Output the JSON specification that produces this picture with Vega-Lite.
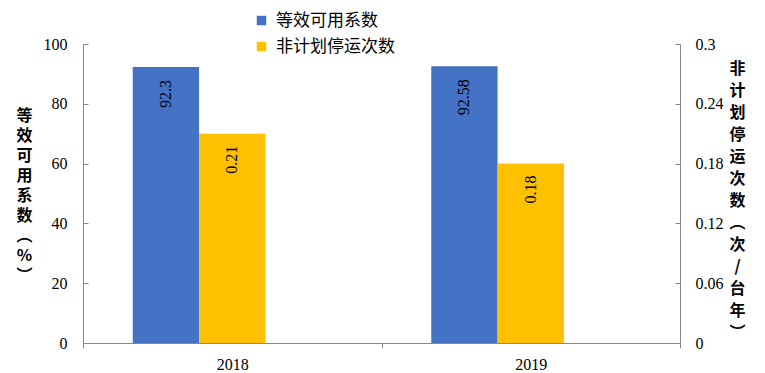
{
  "$schema": "https://vega.github.io/schema/vega-lite/v6.json",
  "width": 597,
  "height": 299,
  "autosize": {"type": "none"},
  "padding": {"left": 83, "top": 44, "right": 85, "bottom": 30},
  "background": "white",
  "config": {
    "view": {"stroke": null},
    "axis": {"grid": false, "domainColor": "#888888", "tickColor": "#888888", "labelColor": "#000000", "labelFont": "Liberation Serif", "labelFontSize": 16, "titleColor": "#000000"}
  },
  "data": {
    "values": [
      {"year": "2018", "series": "等效可用系数", "value": 92.3},
      {"year": "2018", "series": "非计划停运次数", "value": 0.21},
      {"year": "2019", "series": "等效可用系数", "value": 92.58},
      {"year": "2019", "series": "非计划停运次数", "value": 0.18}
    ]
  },
  "encoding": {
    "x": {"field": "year", "type": "nominal", "title": null,
      "scale": {"paddingInner": 0, "paddingOuter": 0},
      "axis": {"labelAngle": 0, "tickBand": "extent", "tickSize": 5, "labelPadding": 8, "labelBaseline": "top"}},
    "xOffset": {"field": "series", "type": "nominal", "scale": {"domain": ["等效可用系数", "非计划停运次数", "空"], "paddingInner": 0, "paddingOuter": 0.75}},
    "color": {"field": "series", "type": "nominal", "title": null,
      "scale": {"domain": ["等效可用系数", "非计划停运次数"], "range": ["#4472C4", "#FFC000"]},
      "legend": {"orient": "none", "legendX": 170, "legendY": -32, "direction": "vertical", "symbolType": "square", "symbolSize": 90, "symbolStrokeWidth": 0, "labelFont": "Noto Sans CJK SC", "labelFontSize": 17, "labelColor": "#000000", "rowPadding": 8, "labelOffset": 6}}
  },
  "layer": [
    {
      "transform": [{"filter": "datum.series === '等效可用系数'"}],
      "encoding": {
        "y": {"field": "value", "type": "quantitative",
          "scale": {"domain": [0, 100], "nice": false},
          "axis": {"orient": "left", "values": [0, 20, 40, 60, 80, 100], "tickSize": -5, "labelPadding": 21,
            "title": ["等", "效", "可", "用", "系", "数", "︵", "%", "︶"],
            "titleAngle": 0, "titleFont": "Noto Sans CJK SC", "titleFontSize": 16, "titleFontWeight": "bold", "titleLineHeight": 20,
            "titleAlign": "center", "titleBaseline": "top", "titleX": -59, "titleY": 63}}
      },
      "layer": [
        {"mark": {"type": "bar"}},
        {"mark": {"type": "text", "angle": 270, "align": "right", "baseline": "middle", "dx": -13, "font": "Liberation Serif", "fontSize": 16},
          "encoding": {"text": {"field": "value", "type": "quantitative"}, "color": {"value": "#000000"}}}
      ]
    },
    {
      "transform": [{"filter": "datum.series === '非计划停运次数'"}],
      "encoding": {
        "y": {"field": "value", "type": "quantitative",
          "scale": {"domain": [0, 0.3], "nice": false},
          "axis": {"orient": "right", "values": [0, 0.06, 0.12, 0.18, 0.24, 0.3], "labelExpr": "'' + datum.value", "tickSize": -5, "labelPadding": 20,
            "title": ["非", "计", "划", "停", "运", "次", "数", "︵", "次", "/", "台", "年", "︶"],
            "titleAngle": 0, "titleFont": "Noto Sans CJK SC", "titleFontSize": 16, "titleFontWeight": "bold", "titleLineHeight": 22,
            "titleAlign": "center", "titleBaseline": "top", "titleX": 57, "titleY": 16}}
      },
      "layer": [
        {"mark": {"type": "bar"}},
        {"mark": {"type": "text", "angle": 270, "align": "right", "baseline": "middle", "dx": -12, "font": "Liberation Serif", "fontSize": 16},
          "encoding": {"text": {"field": "value", "type": "quantitative"}, "color": {"value": "#000000"}}}
      ]
    }
  ],
  "resolve": {"scale": {"y": "independent"}}
}
